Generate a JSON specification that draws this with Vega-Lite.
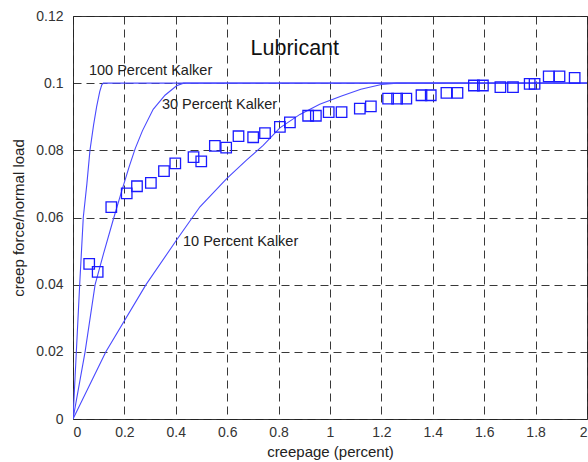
{
  "$schema": "https://vega.github.io/schema/vega-lite/v6.json",
  "autosize": {"type": "none"},
  "width": 514,
  "height": 403,
  "padding": {"left": 73, "top": 16, "right": 1, "bottom": 43},
  "background": "white",
  "config": {
    "font": "Liberation Sans",
    "view": {"stroke": "#333333", "strokeWidth": 1},
    "axis": {
      "domain": false,
      "ticks": false,
      "grid": true,
      "gridColor": "#222222",
      "gridDash": [8, 5],
      "gridWidth": 1,
      "gridOpacity": 0.9,
      "labelFont": "Liberation Sans",
      "labelFontSize": 14,
      "labelColor": "#333333",
      "titleFont": "Liberation Sans",
      "titleFontSize": 15,
      "titleFontWeight": "normal",
      "titleColor": "#222222"
    }
  },
  "datasets": {
    "curves": [
      {"curve": "100", "x": 0, "y": 0},
      {"curve": "100", "x": 0.013, "y": 0.02},
      {"curve": "100", "x": 0.026, "y": 0.04},
      {"curve": "100", "x": 0.04, "y": 0.06},
      {"curve": "100", "x": 0.054, "y": 0.07},
      {"curve": "100", "x": 0.066, "y": 0.08},
      {"curve": "100", "x": 0.08, "y": 0.0875},
      {"curve": "100", "x": 0.092, "y": 0.093},
      {"curve": "100", "x": 0.104, "y": 0.0975},
      {"curve": "100", "x": 0.112, "y": 0.0995},
      {"curve": "100", "x": 0.118, "y": 0.1},
      {"curve": "100", "x": 2, "y": 0.1},
      {"curve": "30", "x": 0, "y": 0},
      {"curve": "30", "x": 0.047, "y": 0.02},
      {"curve": "30", "x": 0.086, "y": 0.04},
      {"curve": "30", "x": 0.118, "y": 0.049},
      {"curve": "30", "x": 0.159, "y": 0.06},
      {"curve": "30", "x": 0.19, "y": 0.068},
      {"curve": "30", "x": 0.218, "y": 0.075},
      {"curve": "30", "x": 0.242, "y": 0.0805},
      {"curve": "30", "x": 0.27, "y": 0.0858},
      {"curve": "30", "x": 0.312, "y": 0.0922},
      {"curve": "30", "x": 0.358, "y": 0.0964},
      {"curve": "30", "x": 0.403, "y": 0.0992},
      {"curve": "30", "x": 0.43, "y": 0.1},
      {"curve": "30", "x": 2, "y": 0.1},
      {"curve": "10", "x": 0, "y": 0},
      {"curve": "10", "x": 0.128, "y": 0.02},
      {"curve": "10", "x": 0.284, "y": 0.04},
      {"curve": "10", "x": 0.403, "y": 0.0533},
      {"curve": "10", "x": 0.494, "y": 0.0632},
      {"curve": "10", "x": 0.598, "y": 0.0716},
      {"curve": "10", "x": 0.675, "y": 0.0771},
      {"curve": "10", "x": 0.74, "y": 0.0815},
      {"curve": "10", "x": 0.805, "y": 0.0867},
      {"curve": "10", "x": 0.883, "y": 0.0907},
      {"curve": "10", "x": 0.96, "y": 0.0937},
      {"curve": "10", "x": 1.045, "y": 0.0962},
      {"curve": "10", "x": 1.12, "y": 0.0982},
      {"curve": "10", "x": 1.2, "y": 0.0996},
      {"curve": "10", "x": 1.26, "y": 0.1},
      {"curve": "10", "x": 2, "y": 0.1}
    ],
    "measured": [
      {"x": 0.063, "y": 0.0462},
      {"x": 0.096, "y": 0.0438},
      {"x": 0.149, "y": 0.0631},
      {"x": 0.209, "y": 0.0672},
      {"x": 0.249, "y": 0.0693},
      {"x": 0.303, "y": 0.0703},
      {"x": 0.354, "y": 0.0738},
      {"x": 0.398, "y": 0.0761},
      {"x": 0.469, "y": 0.078},
      {"x": 0.499, "y": 0.0767},
      {"x": 0.552, "y": 0.0813},
      {"x": 0.596, "y": 0.0808},
      {"x": 0.644, "y": 0.0842},
      {"x": 0.701, "y": 0.0839},
      {"x": 0.747, "y": 0.0851},
      {"x": 0.805, "y": 0.087},
      {"x": 0.844, "y": 0.0883},
      {"x": 0.915, "y": 0.0903},
      {"x": 0.945, "y": 0.0903},
      {"x": 0.995, "y": 0.0914},
      {"x": 1.045, "y": 0.0914},
      {"x": 1.116, "y": 0.0924},
      {"x": 1.159, "y": 0.0931},
      {"x": 1.226, "y": 0.0954},
      {"x": 1.261, "y": 0.0954},
      {"x": 1.297, "y": 0.0954},
      {"x": 1.356, "y": 0.0964},
      {"x": 1.392, "y": 0.0964},
      {"x": 1.453, "y": 0.0971},
      {"x": 1.496, "y": 0.0971},
      {"x": 1.56, "y": 0.0993},
      {"x": 1.595, "y": 0.0993},
      {"x": 1.663, "y": 0.0988},
      {"x": 1.712, "y": 0.0988},
      {"x": 1.777, "y": 0.0998},
      {"x": 1.796, "y": 0.0998},
      {"x": 1.851, "y": 0.102},
      {"x": 1.893, "y": 0.102},
      {"x": 1.952, "y": 0.1016}
    ],
    "labels": [
      {"x": 0.062, "y": 0.1035, "label": "100 Percent Kalker"},
      {"x": 0.346, "y": 0.0934, "label": "30 Percent Kalker"},
      {"x": 0.428, "y": 0.0527, "label": "10 Percent Kalker"}
    ],
    "title": [
      {"x": 0.863, "y": 0.1102, "label": "Lubricant"}
    ]
  },
  "layer": [
    {
      "data": {"name": "curves"},
      "mark": {"type": "line", "color": "#4a4aff", "strokeWidth": 1.1, "clip": true},
      "encoding": {
        "x": {
          "field": "x", "type": "quantitative",
          "scale": {"domain": [0, 2], "nice": false, "zero": false},
          "axis": {
            "title": "creepage (percent)",
            "values": [0, 0.2, 0.4, 0.6, 0.8, 1, 1.2, 1.4, 1.6, 1.8, 2],
            "labelExpr": "format(datum.value, '~g')",
            "labelPadding": 6,
            "titlePadding": 5
          }
        },
        "y": {
          "field": "y", "type": "quantitative",
          "scale": {"domain": [0, 0.12], "nice": false},
          "axis": {
            "title": "creep force/normal load",
            "values": [0, 0.02, 0.04, 0.06, 0.08, 0.1, 0.12],
            "labelExpr": "format(datum.value, '~g')",
            "labelPadding": 10,
            "titlePadding": 9
          }
        },
        "detail": {"field": "curve", "type": "nominal"}
      }
    },
    {
      "data": {"name": "measured"},
      "mark": {"type": "point", "shape": "square", "size": 110, "filled": false, "color": "#1a1aff", "strokeWidth": 1.3, "opacity": 1},
      "encoding": {
        "x": {"field": "x", "type": "quantitative"},
        "y": {"field": "y", "type": "quantitative"}
      }
    },
    {
      "data": {"name": "labels"},
      "mark": {"type": "text", "align": "left", "baseline": "middle", "fontSize": 14.5, "color": "#222222"},
      "encoding": {
        "x": {"field": "x", "type": "quantitative"},
        "y": {"field": "y", "type": "quantitative"},
        "text": {"field": "label"}
      }
    },
    {
      "data": {"name": "title"},
      "mark": {"type": "text", "align": "center", "baseline": "middle", "fontSize": 21.5, "color": "#111111"},
      "encoding": {
        "x": {"field": "x", "type": "quantitative"},
        "y": {"field": "y", "type": "quantitative"},
        "text": {"field": "label"}
      }
    }
  ]
}
